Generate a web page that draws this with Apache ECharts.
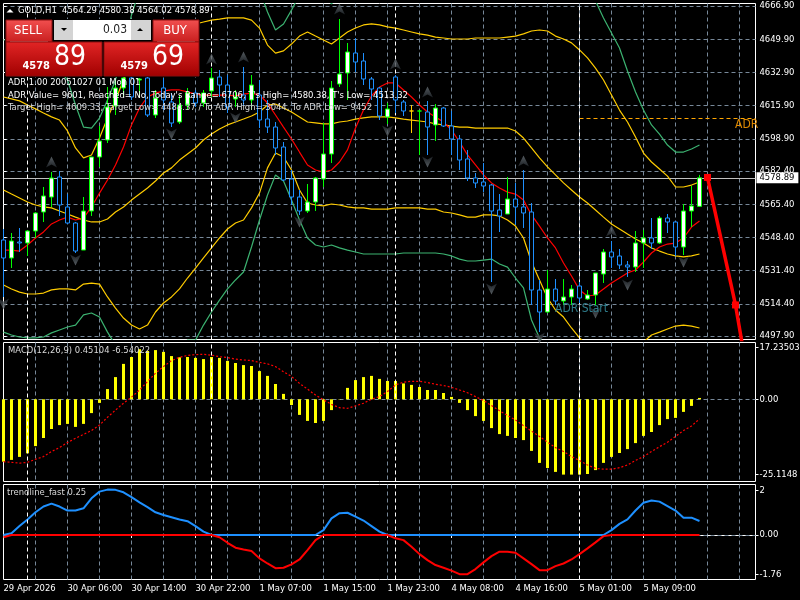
<!DOCTYPE html>
<html><head><meta charset="utf-8">
<style>html,body{margin:0;padding:0;background:#000}#c{width:800px;height:600px}</style>
<script src="https://cdn.jsdelivr.net/npm/echarts@6/dist/echarts.min.js"></script>
</head><body><div id="c"></div>
<script>
const FONT = '"DejaVu Sans Condensed", "DejaVu Sans", sans-serif';
const FS = 9.4;
const tickLabels = ['29 Apr 2026','30 Apr 06:00','30 Apr 14:00','30 Apr 22:00','1 May 07:00','1 May 15:00','1 May 23:00','4 May 08:00','4 May 16:00','5 May 01:00','5 May 09:00'];
const priceTicks = [4666.9,4649.9,4632.9,4615.9,4598.9,4582.4,4565.4,4548.4,4531.4,4514.4,4497.9];
const macdTicks = [17.23503,0,-25.1148];
const macdTickText = ['17.23503','0.00','-25.1148'];
const trendTicks = [2,0,-1.76];
const trendTickText = ['2','0.00','-1.76'];
const daySeparators = [3,26,49,72];

const candleOpen = [4547.07,4537.85,4546.04,4545.53,4551.67,4561.40,4569.08,4579.33,4563.96,4555.77,
4541.94,4561.92,4589.57,4598.28,4615.69,4624.91,4630.03,4629.0,4630.03,4611.08,
4624.91,4617.73,4607.49,4616.20,4622.35,4617.22,4623.37,4630.54,4626.44,4619.27,
4621.32,4618.76,4621.32,4609.03,4604.93,4594.69,4578.30,4569.08,4561.92,4566.52,
4578.30,4591.11,4626.95,4632.59,4642.83,4638.73,4629.51,4624.91,4610.05,4630.54,
4617.73,4613.13,4613.13,4612.62,4605.96,4614.66,4605.44,4598.79,4588.55,4578.82,
4576.77,4575.23,4562.43,4560.38,4568.06,4563.96,4561.40,4521.46,4510.19,4521.97,
4515.83,4517.87,4523.51,4516.85,4518.90,4529.65,4540.92,4538.87,4534.26,4533.24,
4545.53,4548.09,4545.53,4558.33,4556.28,4543.48,4561.92,4564.29];
const candleClose = [4537.85,4546.56,4545.53,4551.67,4560.89,4569.60,4578.82,4564.99,4555.77,4541.43,
4561.92,4589.57,4597.76,4615.18,4624.91,4630.03,4620.30,4629.51,4611.08,4619.79,
4618.76,4606.98,4616.20,4622.35,4617.22,4622.35,4630.03,4626.44,4615.18,4620.30,
4618.76,4626.44,4608.52,4604.93,4594.18,4577.79,4569.08,4561.92,4566.52,4578.82,
4591.11,4624.91,4632.07,4643.34,4638.22,4629.51,4624.39,4610.57,4614.15,4618.76,
4613.13,4613.13,4613.13,4604.93,4614.66,4605.44,4598.79,4588.03,4578.82,4576.25,
4574.72,4561.92,4559.36,4568.06,4563.96,4560.89,4521.46,4510.19,4521.97,4515.83,
4517.87,4521.97,4517.36,4518.90,4530.16,4540.92,4538.36,4534.26,4533.24,4545.53,
4548.09,4545.53,4558.33,4556.28,4543.48,4561.92,4564.48,4578.89];
const candleLow = [4517.87,4532.73,4540.92,4538.87,4548.09,4556.28,4563.96,4559.36,4555.26,4540.41,
4541.94,4559.36,4584.45,4596.74,4611.08,4620.30,4618.76,4620.30,4610.05,4609.54,
4613.64,4604.93,4606.47,4613.64,4615.18,4615.18,4620.30,4620.30,4612.10,4615.18,
4616.20,4613.64,4604.42,4601.86,4590.60,4577.28,4564.99,4559.87,4560.89,4561.92,
4574.21,4586.50,4625.42,4618.76,4633.10,4626.44,4618.76,4608.52,4606.47,4612.10,
4610.57,4601.86,4590.60,4590.60,4597.76,4604.93,4590.60,4582.91,4577.28,4573.70,
4571.65,4525.56,4551.16,4560.38,4554.75,4553.21,4513.78,4499.95,4509.68,4513.78,
4513.78,4513.78,4514.80,4516.34,4513.78,4525.05,4532.73,4532.21,4528.12,4530.68,
4532.73,4542.46,4545.02,4550.65,4538.87,4539.38,4553.72,4564.02];
const candleHigh = [4552.70,4550.65,4553.21,4552.19,4561.40,4574.21,4581.89,4582.40,4570.62,4556.28,
4569.08,4589.57,4605.44,4625.42,4629.0,4633.10,4631.05,4630.03,4631.05,4623.88,
4630.03,4622.35,4621.32,4624.91,4623.88,4623.88,4635.15,4634.12,4631.56,4623.88,
4635.66,4631.56,4629.0,4618.76,4607.49,4597.25,4582.91,4572.67,4575.74,4579.33,
4606.98,4628.49,4660.24,4647.95,4650.51,4642.83,4630.54,4625.42,4617.22,4631.56,
4618.76,4616.20,4613.64,4618.25,4616.71,4615.18,4613.13,4600.84,4593.16,4581.38,
4586.50,4575.74,4570.62,4579.33,4576.25,4582.91,4566.01,4526.58,4531.70,4527.09,
4527.09,4524.02,4525.56,4521.46,4530.16,4542.46,4546.56,4542.46,4536.31,4551.67,
4552.19,4558.33,4559.36,4560.38,4556.80,4565.50,4574.72,4580.38];
const dojiColors = {51:'#ffcc00',52:'#00ff00'};

const maRed = [4541.9,4541.9,4541.4,4544.5,4548.1,4551.2,4555.3,4557.3,4558.8,4557.3,4558.3,4564.0,4571.1,4577.8,4585.5,4594.7,4606.0,4614.7,4620.3,4622.3,
4623.4,4623.9,4623.9,4622.9,4621.8,4621.3,4621.3,4621.3,4621.3,4620.8,4621.8,4622.3,4621.3,4617.2,4611.1,4604.9,4598.8,4592.1,4585.5,4582.9,
4581.9,4582.9,4587.0,4593.2,4604.4,4613.6,4620.8,4625.4,4627.5,4627.5,4623.9,4620.3,4616.2,4612.6,4610.1,4607.5,4603.4,4597.3,4590.6,4585.5,
4580.4,4576.3,4573.7,4571.6,4570.6,4567.5,4559.9,4554.2,4548.1,4543.0,4535.3,4528.6,4521.5,4518.4,4518.9,4522.0,4525.0,4527.6,4530.2,4531.7,
4535.8,4540.4,4543.5,4545.0,4545.5,4548.1,4553.7,4556.8];
const bandUpper = [4620.3,4619.3,4618.3,4616.2,4614.2,4612.1,4610.1,4608.5,4602.9,4594.2,4589.1,4590.6,4599.3,4609.5,4618.8,4629.0,4638.2,4643.3,4647.4,4650.5,
4651.5,4652.6,4654.6,4655.6,4657.7,4658.7,4659.7,4660.2,4660.8,4660.8,4660.8,4659.7,4655.6,4646.9,4642.8,4643.9,4647.4,4651.5,4653.6,4651.5,
4649.5,4647.4,4650.5,4653.6,4655.6,4657.2,4657.7,4657.2,4656.2,4655.6,4654.6,4653.6,4652.6,4652.0,4651.0,4650.5,4650.0,4650.0,4650.0,4650.5,
4650.5,4650.5,4650.5,4651.0,4651.5,4652.6,4654.1,4654.6,4654.1,4651.5,4650.0,4648.0,4644.4,4640.3,4635.1,4629.0,4621.3,4613.6,4607.5,4599.8,
4591.6,4587.0,4583.4,4579.8,4574.2,4574.2,4575.2,4576.8];
const bandMiddle = [4572.7,4570.6,4568.6,4566.5,4565.0,4564.0,4563.5,4561.9,4560.4,4558.8,4557.3,4556.3,4556.3,4557.8,4561.4,4564.0,4567.5,4570.6,4573.7,4577.3,
4581.4,4584.0,4588.0,4591.1,4594.2,4598.3,4601.3,4603.9,4606.0,4607.5,4609.0,4610.6,4612.6,4616.2,4616.7,4614.7,4612.6,4610.1,4607.5,4607.0,
4606.5,4606.5,4607.5,4608.0,4609.0,4609.6,4610.1,4610.1,4610.1,4609.6,4609.0,4608.5,4608.0,4607.5,4606.5,4606.0,4605.4,4604.9,4604.9,4604.4,
4604.4,4604.4,4604.4,4604.4,4602.9,4599.3,4594.2,4589.1,4584.5,4580.4,4576.3,4572.7,4569.1,4566.0,4562.4,4558.8,4555.3,4552.7,4550.1,4547.6,
4545.5,4543.0,4541.4,4539.9,4538.9,4538.4,4538.9,4539.9];
const bandLower = [4524.0,4522.0,4520.4,4519.4,4519.4,4519.9,4521.5,4522.0,4522.0,4521.5,4524.5,4525.0,4524.5,4517.9,4512.2,4507.1,4503.5,4501.5,4503.5,4510.2,
4514.8,4517.9,4522.0,4527.6,4532.7,4537.9,4543.0,4548.1,4552.7,4555.8,4557.3,4563.5,4571.1,4584.0,4591.6,4589.6,4582.9,4572.7,4566.0,4565.0,
4564.5,4565.5,4565.0,4564.0,4563.5,4563.5,4562.9,4562.9,4562.9,4563.5,4563.5,4563.5,4563.5,4562.9,4562.9,4561.4,4560.9,4559.9,4558.8,4558.8,
4559.9,4559.9,4559.4,4557.3,4554.2,4548.1,4535.8,4526.6,4517.4,4511.2,4507.6,4502.0,4496.9,4493.3,4490.7,4488.2,4486.6,4486.6,4488.2,4490.7,
4494.8,4498.4,4499.9,4501.5,4503.0,4503.5,4503.0,4502.0];
const outerUpper = [4649.5,4649.5,4646.9,4644.4,4641.8,4639.2,4636.7,4634.1,4629.0,4616.2,4604.9,4604.4,4609.5,4618.8,4629.0,4644.4,4662.3,4675.1,
null,null,null,null,null,null,null,null,null,null,null,null,null,null,
4675.1,4663.8,4654.6,4657.7,4664.8,4672.5,null,null,4672.5,4668.0,4672.5,
null,null,null,null,null,null,null,null,null,null,null,null,null,null,null,null,null,null,null,null,null,null,null,null,null,null,null,null,null,null,
4675.1,4669.5,4660.8,4653.1,4645.4,4633.6,4622.9,4613.6,4606.0,4601.3,4595.7,4592.1,4592.1,4593.7,4595.7];
const outerLower = [4499.9,4498.4,4497.4,4496.9,4496.9,4497.4,4499.5,4501.0,4502.5,4503.5,4508.7,4509.7,4507.6,4499.9,4493.3,4488.2,4485.6,4483.0,4483.0,4485.6,
4488.2,4490.7,4493.3,4495.8,4495.8,4503.5,4510.2,4516.3,4522.0,4526.6,4530.7,4543.5,4557.3,4570.1,4580.4,4577.3,4567.5,4557.3,4548.1,4544.5,
4543.5,4544.5,4543.0,4541.9,4540.9,4539.9,4539.9,4539.9,4539.9,4539.9,4540.4,4540.4,4540.4,4540.4,4540.4,4539.9,4538.9,4537.3,4536.3,4536.3,
4536.8,4537.3,4534.8,4533.2,4527.6,4522.5,4506.1,4496.9,4490.7];
const adrHigh = 4609.33;
const lastPrice = 4578.89;
const forecastLine = [[88,4579.1],[91.5,4513.8],[92.5,4490]];
const arrowsUp = [[6,4587.01],[26,4639.76],[30,4640.78],[42,4665.36],[49,4637.20],[53,4622.86],[65,4587.52],[76,4551.67]];
const arrowsDown = [[0,4514.29],[9,4536.82],[21,4601.35],[29,4609.54],[37,4556.28],[48,4602.88],[53,4587.01],[61,4521.97],[67,4496.88],[74,4509.68],[78,4524.02],[85,4535.80]];

const macdBars = [-20.8,-20.2,-19.2,-18.0,-15.6,-12.9,-9.9,-8.6,-8.2,-9.2,-8.2,-4.6,-1.2,3.4,7.4,11.8,14.1,16.7,16.1,16.4,
15.8,14.4,14.0,14.1,13.8,13.4,14.1,13.8,12.8,12.1,11.4,11.1,9.4,7.8,5.1,1.8,-1.9,-5.2,-7.2,-7.9,
-7.2,-3.6,0.1,3.8,6.4,7.4,7.8,6.8,6.1,6.1,5.3,4.8,4.1,3.1,3.1,2.1,0.8,-1.2,-3.6,-5.6,
-7.2,-9.6,-11.6,-12.2,-12.9,-13.6,-17.2,-21.2,-22.9,-24.2,-25.1,-25.1,-25.1,-24.9,-23.6,-21.2,-19.2,-17.9,-16.6,-14.6,
-12.2,-10.9,-8.6,-6.6,-6.2,-4.2,-2.2,0.45];
const macdSignal = [-20.8,-21,-21.3,-21,-20,-19.1,-17.4,-16.1,-14.4,-13,-11.7,-10.4,-8.6,-6,-3.6,-1.3,0.7,3.1,5.9,8.7,
10.9,12.9,14,14.6,14.9,15,14.7,14.2,13.9,13.4,13.1,12.9,12.3,11.8,10.9,9.2,7.6,5.3,3.4,1.4,
-0.2,-1.7,-2.8,-3,-2.2,-1.3,0,0.9,2.6,4.8,5.7,6,6,5.6,5,4.6,4,3.1,2.2,0.9,
-0.4,-2.1,-3.8,-5.4,-6.9,-8.8,-10.6,-12.4,-14.3,-16.1,-17.4,-19.1,-20.4,-21.9,-23,-23.3,-23.3,-22.8,-21.9,-20.4,
-19.1,-17.4,-15.8,-14.3,-12.4,-10.4,-8.9,-6.54];
const trendValues = [-0.1,0.08,0.4,0.7,1.02,1.28,1.41,1.28,1.1,1.1,1.2,1.65,1.95,2.04,2.03,1.92,1.7,1.47,1.25,1.02,
0.9,0.8,0.7,0.62,0.4,0.15,0,-0.1,-0.35,-0.57,-0.65,-0.72,-1.05,-1.28,-1.49,-1.47,-1.32,-1.1,-0.68,-0.23,
0.22,0.75,0.98,1.0,0.83,0.65,0.4,0.15,0,-0.15,-0.23,-0.53,-0.86,-1.13,-1.35,-1.47,-1.6,-1.76,-1.76,-1.53,
-1.23,-0.95,-0.75,-0.75,-0.8,-1.05,-1.31,-1.58,-1.58,-1.4,-1.28,-1.1,-0.86,-0.6,-0.33,-0.05,0.22,0.5,0.7,1.1,
1.45,1.55,1.5,1.3,1.1,0.78,0.78,0.63];

const SLOTS = 95;
const categories = Array.from({length:SLOTS},(_,i)=>i);
const candleData = candleOpen.map((o,i)=>{
  const item = {value:[o,candleClose[i],candleLow[i],candleHigh[i]]};
  if (dojiColors[i]) item.itemStyle = {borderColor:dojiColors[i],borderColor0:dojiColors[i],borderColorDoji:dojiColors[i]};
  return item;
});
const GRID = '#778899';
function catAxis(grid, last){
  return {type:'category',gridIndex:grid,data:categories,boundaryGap:false,
    axisLine:{show:last,lineStyle:{color:'#fff'}},
    axisTick:{show:last,length:3,interval:(i)=>i%8===0&&i<=80,lineStyle:{color:'#fff'}},
    axisLabel:{show:last,color:'#fff',fontFamily:FONT,fontSize:FS,align:'left',margin:5,
      interval:(i)=>i%8===0&&i<=80,hideOverlap:false,formatter:(v,i)=>tickLabels[i/8]||''},
    splitLine:{show:true,interval:(i)=>i%4===0&&i>0,lineStyle:{color:GRID,type:[4,3],width:1}}};
}
function valAxis(grid,min,max,ticks,fmt,split){
  return {type:'value',gridIndex:grid,min,max,position:'right',scale:true,
    axisLine:{show:false},
    axisTick:{show:true,length:3,customValues:ticks,lineStyle:{color:'#fff'}},
    axisLabel:{color:'#fff',fontFamily:FONT,fontSize:FS,margin:4,customValues:ticks,formatter:fmt,showMinLabel:true,showMaxLabel:true},
    splitLine:{show:split,lineStyle:{color:GRID,type:[4,3],width:1}}};
}
function dayRules(grid, extra){
  return {type:'line',xAxisIndex:grid,yAxisIndex:grid,data:[],z:1,silent:true,
    markLine:{silent:true,symbol:'none',animation:false,label:{show:false},
      lineStyle:{color:'#fff',type:[4,3],width:1},
      data:daySeparators.map(d=>({xAxis:d})).concat(extra||[])}};
}
function band(data,color,w){
  return {type:'line',data,xAxisIndex:0,yAxisIndex:0,symbol:'none',z:3,clip:true,connectNulls:false,silent:true,
    lineStyle:{color,width:w||1.2}};
}
const rect=(x,y,w,h,fill,stroke)=>({type:'rect',z:100,silent:true,shape:{x,y,width:w,height:h},style:{fill,stroke:stroke||null,lineWidth:stroke?1:0}});
const text=(x,y,s,size,fill,o)=>({type:'text',z:101,silent:true,x,y,style:Object.assign({text:s,fontSize:size,fontFamily:FONT,fill,verticalAlign:'middle',align:'left'},o||{})});
const grad=(a,b)=>new echarts.graphic.LinearGradient(0,0,0,1,[{offset:0,color:a},{offset:1,color:b}]);

const graphics = [
  text(18,10.5,'GOLD,H1  4564.29 4580.38 4564.02 4578.89',FS,'#fff'),
  {type:'polygon',z:101,silent:true,shape:{points:[[6.5,12.5],[13.5,12.5],[10,9]]},style:{fill:'#fff'}},
  rect(5,19,195,58,'#000'),
  rect(6,20,46,22,grad('#f25050','#c81e1e'),'#8c0f0f'),
  rect(10,41.5,38,1,'#f0b0b0'),
  text(28,31,'SELL',13,'#fff',{align:'center'}),
  rect(54,20,19,20,'#d4d4d4'),
  rect(73,20,58,20,'#fff'),
  rect(131,20,20,20,'#d4d4d4'),
  text(127,30,'0.03',12,'#222',{align:'right'}),
  {type:'polygon',z:101,silent:true,shape:{points:[[61,28],[67,28],[64,31]]},style:{fill:'#000'}},
  {type:'polygon',z:101,silent:true,shape:{points:[[137,31],[143,31],[140,28]]},style:{fill:'#000'}},
  rect(153,20,46,22,grad('#f25050','#c81e1e'),'#8c0f0f'),
  rect(157,41.5,38,1,'#f0b0b0'),
  text(175,31,'BUY',13,'#fff',{align:'center'}),
  rect(6,42,96,34,grad('#e22525','#a00000'),'#8c0f0f'),
  rect(104,42,95,34,grad('#e22525','#a00000'),'#8c0f0f'),
  text(50,66,'4578',11,'#fff',{align:'right',fontWeight:'bold'}),
  text(54,58,'89',28,'#fff'),
  text(148,66,'4579',11,'#fff',{align:'right',fontWeight:'bold'}),
  text(152,58,'69',28,'#fff'),
  text(8,83,'ADR 1.00 20051027 01 Mon 01',FS,'#fff'),
  text(8,95.5,"ADR Value= 9601, Reached= No, Today's Range= 6706, T's High= 4580.38, T's Low= 4513.32",FS,'#fff'),
  text(8,108,'Target High= 4609.33, Target Low= 4484.37 / To ADR High= 3044, To ADR Low= 9452',FS,'#d8d8d8'),
  text(735,125,'ADR',12,'#e08a00'),
  text(555,309,'ADR Start',12,'#2f7d8c'),
  text(8,351,'MACD(12,26,9) 0.45104 -6.54022',FS,'#d8d8d8'),
  text(7,493,'trendline_fast 0.25',FS,'#d8d8d8'),
];

const option = {
  animation:false,backgroundColor:'#000',
  grid:[
    {left:3.5,top:3.5,width:752,height:336,show:true,borderColor:'#fff',borderWidth:1,backgroundColor:'#000',outerBoundsMode:'none'},
    {left:3.5,top:342.5,width:752,height:139,show:true,borderColor:'#fff',borderWidth:1,backgroundColor:'#000',outerBoundsMode:'none'},
    {left:3.5,top:484.5,width:752,height:95,show:true,borderColor:'#fff',borderWidth:1,backgroundColor:'#000',outerBoundsMode:'none'}
  ],
  xAxis:[catAxis(0,false),catAxis(1,false),catAxis(2,true),
    {type:'value',gridIndex:0,min:0,max:SLOTS-1,show:false}],
  yAxis:[
    valAxis(0,4496.11,4668.18,priceTicks,(v)=>v.toFixed(2),true),
    valAxis(1,-27.4,18.93,macdTicks,(v)=>macdTickText[macdTicks.findIndex(t=>Math.abs(t-v)<1e-6)],false),
    valAxis(2,-2.0,2.27,trendTicks,(v)=>trendTickText[trendTicks.findIndex(t=>Math.abs(t-v)<1e-6)],false)
  ],
  graphic:graphics,
  series:[
    dayRules(0),dayRules(1),dayRules(2),
    band(outerUpper,'#3cb371'),band(outerLower,'#3cb371'),
    band(bandUpper,'#ffcc00'),band(bandMiddle,'#ffcc00'),band(bandLower,'#ffcc00'),
    band(maRed,'#ff0000'),
    {type:'candlestick',xAxisIndex:0,yAxisIndex:0,data:candleData,barWidth:4,z:5,clip:true,silent:true,
      itemStyle:{color:'#ffffff',color0:'#000000',borderColor:'#00ff00',borderColor0:'#1e90ff',borderWidth:1},
      markLine:{silent:true,symbol:'none',animation:false,z:2,
        data:[
          {yAxis:lastPrice,lineStyle:{color:'#c0c0c0',type:'solid',width:1},
            label:{show:true,position:'end',formatter:lastPrice.toFixed(2),backgroundColor:'#fff',color:'#000',
              fontFamily:FONT,fontSize:FS,padding:[1,4,1,3],distance:1}},
          [{xAxis:72,yAxis:adrHigh,lineStyle:{color:'#ffa500',type:[4,3],width:1},label:{show:false}},{xAxis:SLOTS-1,yAxis:adrHigh}]
        ]}},
    {type:'scatter',xAxisIndex:0,yAxisIndex:0,data:arrowsUp,z:6,silent:true,symbol:'path://M50,0 L95,100 L50,72 L5,100 Z',symbolSize:[11,11],
      itemStyle:{color:grad('#6a7278','#23282d')}},
    {type:'scatter',xAxisIndex:0,yAxisIndex:0,data:arrowsDown,z:6,silent:true,symbol:'path://M50,100 L95,0 L50,28 L5,0 Z',symbolSize:[11,11],
      itemStyle:{color:grad('#23282d','#6a7278')}},
    {type:'line',xAxisIndex:3,yAxisIndex:0,data:forecastLine,z:7,clip:true,silent:true,showAllSymbol:true,
      symbol:'rect',symbolSize:(v,p)=>p.dataIndex<2?7:0,
      lineStyle:{color:'#ff0000',width:3.5},itemStyle:{color:'#ff0000'}},
    {type:'bar',xAxisIndex:1,yAxisIndex:1,data:macdBars,barWidth:3,z:4,silent:true,itemStyle:{color:'#ffff00'},
      markLine:{silent:true,symbol:'none',animation:false,label:{show:false},z:2,
        lineStyle:{color:GRID,type:[4,3],width:1},data:[{yAxis:0}]}},
    {type:'line',xAxisIndex:1,yAxisIndex:1,data:macdSignal,symbol:'none',z:5,silent:true,
      lineStyle:{color:'#ff0000',width:1.2,type:[2,2]}},
    {type:'line',xAxisIndex:2,yAxisIndex:2,data:trendValues.map(v=>Math.max(0,v)),symbol:'none',z:4,silent:true,
      lineStyle:{color:'#1e90ff',width:2},
      markLine:{silent:true,symbol:'none',animation:false,label:{show:false},z:2,
        lineStyle:{color:GRID,type:[4,3],width:1},data:[{yAxis:0}]}},
    {type:'line',xAxisIndex:2,yAxisIndex:2,data:trendValues.map(v=>Math.min(0,v)),symbol:'none',z:5,silent:true,
      lineStyle:{color:'#ff0000',width:2}}
  ]
};
const chart = echarts.init(document.getElementById('c'),null,{renderer:'canvas'});
chart.setOption(option);
</script></body></html>
